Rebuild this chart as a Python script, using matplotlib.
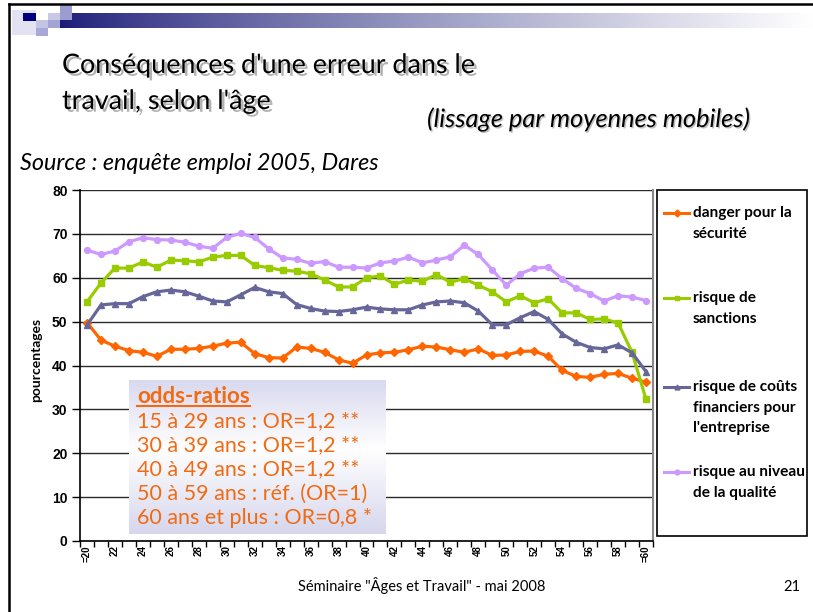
import numpy as np
import matplotlib
matplotlib.use("Agg")
import matplotlib.pyplot as plt
from matplotlib.lines import Line2D
from matplotlib.patches import Rectangle
import matplotlib.patheffects as pe

# ---------------- data ----------------
ages = list(range(20, 61))
tick_positions = list(range(20, 61, 2))
tick_labels = ["=20"] + [str(a) for a in range(22, 60, 2)] + ["=60"]
y_ticks = [0, 10, 20, 30, 40, 50, 60, 70, 80]

danger = [49.8, 45.8, 44.4, 43.4, 43.0, 42.1, 43.7, 43.7, 43.9, 44.4,
          45.1, 45.3, 42.7, 41.8, 41.7, 44.2, 43.9, 43.0, 41.3, 40.5,
          42.4, 42.9, 43.0, 43.6, 44.4, 44.2, 43.6, 43.0, 43.8, 42.3,
          42.4, 43.2, 43.3, 42.1, 38.9, 37.5, 37.3, 38.0, 38.2, 37.1,
          36.2]
sanctions = [54.5, 58.8, 62.2, 62.2, 63.6, 62.4, 64.0, 63.9, 63.6, 64.7,
             65.1, 65.1, 62.8, 62.3, 61.7, 61.5, 60.9, 59.5, 57.9, 57.9,
             60.0, 60.4, 58.5, 59.5, 59.2, 60.7, 59.0, 59.8, 58.3, 56.8,
             54.5, 55.9, 54.3, 55.2, 52.0, 52.0, 50.5, 50.6, 49.7, 43.0,
             32.3]
couts = [49.2, 53.8, 54.1, 54.1, 55.7, 56.8, 57.2, 56.8, 55.8, 54.7,
         54.5, 56.1, 57.8, 56.8, 56.4, 53.9, 53.0, 52.4, 52.3, 52.7,
         53.3, 52.9, 52.7, 52.7, 53.8, 54.5, 54.7, 54.3, 52.4, 49.3,
         49.3, 50.9, 52.3, 50.5, 47.2, 45.3, 44.1, 43.8, 44.7, 42.9,
         38.6]
qualite = [66.3, 65.3, 66.1, 68.2, 69.1, 68.7, 68.6, 68.1, 67.2, 66.7,
           69.2, 70.1, 69.2, 66.6, 64.5, 64.2, 63.3, 63.7, 62.4, 62.4,
           62.2, 63.4, 63.8, 64.7, 63.4, 64.0, 64.8, 67.4, 65.3, 61.8,
           58.3, 60.9, 62.2, 62.4, 59.8, 57.6, 56.4, 54.7, 55.9, 55.6,
           54.8]

series_labels = [["danger pour la", "sécurité"],
                 ["risque de", "sanctions"],
                 ["risque de coûts", "financiers pour", "l'entreprise"],
                 ["risque au niveau", "de la qualité"]]
series_colors = ["#FF6600", "#99CC00", "#666699", "#CC99FF"]
series_markers = ["D", "s", "^", "o"]

title_line1 = "Conséquences d'une erreur dans le"
title_line2 = "travail, selon l'âge"
subtitle = "(lissage par moyennes mobiles)"
source = "Source : enquête emploi 2005, Dares"
y_label = "pourcentages"
odds_title = "odds-ratios"
odds_lines = ["15 à 29 ans : OR=1,2 **",
              "30 à 39 ans : OR=1,2 **",
              "40 à 49 ans : OR=1,2 **",
              "50 à 59 ans : réf. (OR=1)",
              "60 ans et plus : OR=0,8 *"]
footer = 'Séminaire "Âges et Travail" - mai 2008'
page_num = "21"

# ---------------- figure ----------------
W, H = 813, 612
fig = plt.figure(figsize=(W / 100, H / 100), dpi=100)
fig.patch.set_facecolor("white")
renderer = fig.canvas.get_renderer()


def fx(x):
    return x / W


def fy(y):
    return 1 - y / H


def fit(t, width_px):
    bb = t.get_window_extent(renderer)
    t.set_fontsize(t.get_fontsize() * width_px / bb.width)
    return t


COMIC = ["Lato", "DejaVu Sans"]
ARIAL = ["Liberation Sans", "DejaVu Sans"]

# slide border
fig.add_artist(Line2D([fx(9), fx(813)], [fy(4), fy(4)], color="black", lw=1.8,
                      transform=fig.transFigure))
fig.add_artist(Line2D([fx(9), fx(9)], [fy(4), fy(612)], color="black", lw=1.8,
                      transform=fig.transFigure))

# top gradient bar
bar_ax = fig.add_axes([fx(60), fy(28), (813 - 60) / W, 15 / H])
grad = np.linspace(0, 1, 256) ** 0.8
navy = np.array([0.11, 0.11, 0.47])
img = navy[None, None, :] * (1 - grad)[None, :, None] + grad[None, :, None]
bar_ax.imshow(img, aspect="auto", extent=[0, 1, 0, 1])
bar_ax.axis("off")

# decorative squares
squares = [
    (12, 10, 24, 25, "#e2e2f2"),
    (23, 13, 13, 8, "#000080"),
    (36, 20, 12, 8, "#c4c4e4"),
    (48, 13, 12, 8, "#c8c8e8"),
    (48, 20, 12, 8, "#a4a4d4"),
    (60, 5, 12, 15, "#9c9cd0"),
    (36, 28, 12, 8, "#a8a8d8"),
]
for (x, y, w, h, c) in squares:
    fig.add_artist(Rectangle((fx(x), fy(y + h)), w / W, h / H, color=c,
                             transform=fig.transFigure, lw=0))

# titles
shadow = [pe.withSimplePatchShadow(offset=(2, -2), shadow_rgbFace="#808080", alpha=0.6)]
t1 = fig.text(fx(62), fy(73), title_line1, family=COMIC, fontsize=24,
              ha="left", va="baseline", path_effects=shadow)
fit(t1, 413)
t2 = fig.text(fx(62), fy(109), title_line2, family=COMIC, fontsize=t1.get_fontsize(),
              ha="left", va="baseline", path_effects=shadow)
t3 = fig.text(fx(427), fy(127), subtitle, family=COMIC, fontsize=12, style="italic",
              ha="left", va="baseline",
              path_effects=[pe.withSimplePatchShadow(offset=(1, -1), shadow_rgbFace="#808080", alpha=0.5)])
fit(t3, 322)
t4 = fig.text(fx(20), fy(170), source, family=COMIC, fontsize=12, style="italic",
              ha="left", va="baseline")
fit(t4, 358)

# ---------------- chart ----------------
ax = fig.add_axes([fx(80), fy(541), (653 - 80) / W, (541 - 190) / H])
all_series = [danger, sanctions, couts, qualite]
for vals, c, m in zip(all_series, series_colors, series_markers):
    ax.plot(ages, vals, color=c, marker=m, ms=4.2 if m != "D" else 3.8,
            lw=2.3, mec=c, mfc=c, solid_joinstyle="round", zorder=3)

ax.set_xlim(19.5, 60.5)
ax.set_ylim(0, 80)
ax.set_yticks(y_ticks)
ax.set_yticklabels([str(v) for v in y_ticks], family=ARIAL, fontweight="bold", fontsize=10)
ax.yaxis.grid(True, color="#2a2a2a", lw=1.0)
ax.set_axisbelow(True)
ax.tick_params(axis="y", length=6, width=1, pad=3, color="black")

ax.set_xticks(tick_positions)
ax.set_xticklabels(tick_labels, rotation=90, family=ARIAL, fontweight="bold", fontsize=7)
ax.tick_params(axis="x", which="major", length=0, pad=3)
ax.set_xticks(np.arange(19.5, 61, 1), minor=True)
ax.tick_params(axis="x", which="minor", length=4, width=1, color="black")

ax.spines["top"].set_visible(False)
ax.spines["right"].set_color("#8a8a8a")
ax.spines["right"].set_linewidth(1.5)
ax.spines["left"].set_linewidth(1.2)
ax.spines["bottom"].set_linewidth(1.2)

ax.set_ylabel(y_label, family=COMIC, fontweight="bold", fontsize=10)
ax.yaxis.set_label_coords((42 - 80) / 573, (541 - 360) / 351)

# ---------------- legend (manual) ----------------
fig.add_artist(Rectangle((fx(657), fy(536)), (807 - 657) / W, (536 - 190) / H,
                         fill=False, ec="black", lw=1.2, transform=fig.transFigure))
legend_y = [213, 298, 387, 472]
leg_size = 9
for lab, c, m, y0 in zip(series_labels, series_colors, series_markers, legend_y):
    fig.add_artist(Line2D([fx(664), fx(689)], [fy(y0), fy(y0)], color=c, lw=2.2,
                          transform=fig.transFigure))
    fig.add_artist(Line2D([fx(676.5)], [fy(y0)], color=c, marker=m, ms=3.5,
                          mec=c, mfc=c, transform=fig.transFigure))
    for k, line in enumerate(lab):
        tt = fig.text(fx(693), fy(y0 + 20.7 * k), line, family=COMIC, fontweight="bold",
                      fontsize=leg_size, ha="left", va="center")
        if k == 0 and line == "danger pour la":
            fit(tt, 99)
            leg_size = tt.get_fontsize()

# ---------------- odds-ratio box ----------------
box_ax = fig.add_axes([fx(129), fy(534), (385 - 129) / W, (534 - 380) / H])
tt_ = np.linspace(0, 1, 200)
top_c = np.array([0.85, 0.85, 0.94])
bot_c = np.array([0.84, 0.84, 0.93])
white = np.array([1.0, 1.0, 1.0])
cols = []
for t in tt_:
    if t < 0.45:
        a = t / 0.45
        cols.append(top_c * (1 - a) + white * a)
    else:
        a = (t - 0.45) / 0.55
        cols.append(white * (1 - a) + bot_c * a)
cols = np.array(cols)[:, None, :]
box_ax.imshow(cols, aspect="auto", extent=[0, 1, 0, 1])
box_ax.axis("off")

ORANGE = "#F26A12"
ot = fig.text(fx(137), fy(403), odds_title, family=COMIC, fontweight="bold", fontsize=14,
              color=ORANGE, ha="left", va="baseline")
fit(ot, 113)
fig.add_artist(Line2D([fx(137), fx(250)], [fy(406), fy(406)], color=ORANGE, lw=1.5,
                      transform=fig.transFigure))
ref = fig.text(fx(137), fy(524), odds_lines[-1], family=COMIC, fontsize=14,
               color=ORANGE, ha="left", va="baseline")
fit(ref, 235)
odds_size = ref.get_fontsize()
for k, line in enumerate(odds_lines[:-1]):
    fig.text(fx(137), fy(427 + 24.25 * k), line, family=COMIC, fontsize=odds_size,
             color=ORANGE, ha="left", va="baseline")

# ---------------- footer ----------------
ft = fig.text(fx(298), fy(591), footer, family=COMIC, fontsize=9, ha="left", va="baseline")
fit(ft, 247)
fig.text(fx(800), fy(591), page_num, family=COMIC, fontsize=ft.get_fontsize(),
         ha="right", va="baseline")

fig.savefig("out.png", dpi=100, facecolor="white")
